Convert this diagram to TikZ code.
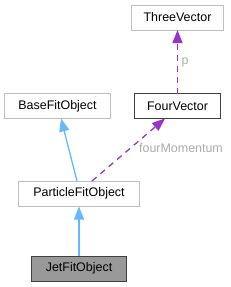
\documentclass[tikz,border=0pt]{standalone}
\usepackage{fontspec}
\setmainfont{Liberation Sans}
\usetikzlibrary{arrows.meta}
\definecolor{edgeblue}{HTML}{63B8FF}
\definecolor{edgepurple}{HTML}{9A32CD}
\definecolor{lightborder}{HTML}{BFBFBF}
\definecolor{darkborder}{HTML}{404040}
\definecolor{labelgray}{HTML}{ABABAB}
\begin{document}
\begin{tikzpicture}[x=1bp,y=-1bp,
  cls/.style={draw=lightborder,fill=white,minimum height=25bp,inner sep=0pt,font=\fontsize{12.5}{14}\selectfont,line width=1bp},
  inherit/.style={draw=edgeblue,line width=1.3bp,-{Triangle[length=13bp,width=10bp]}},
  usage/.style={draw=edgepurple,line width=1.3bp,dash pattern=on 6bp off 5bp,-{Triangle[length=13bp,width=10bp]}},
  elabel/.style={text=labelgray,font=\fontsize{12.5}{14}\selectfont,inner sep=1pt}]
\useasboundingbox (0,0) rectangle (231,287);
\node[cls,minimum width=91bp] (three) at (177.5,17.5) {ThreeVector};
\node[cls,minimum width=105bp] (base) at (57.5,106) {BaseFitObject};
\node[cls,draw=darkborder,minimum width=85bp] (four) at (177.5,106) {FourVector};
\node[cls,minimum width=120bp] (part) at (79,193.5) {ParticleFitObject};
\node[cls,draw=darkborder,fill=black!40,minimum width=94bp] (jet) at (79,268.5) {JetFitObject};
\coordinate (pb) at (77,181);
\coordinate (pf) at (92,181);
\coordinate (bb) at (61,118.5);
\coordinate (fb) at (165,118.5);
\coordinate (ft) at (177.5,93.5);
\coordinate (tb) at (177.5,30);
\draw[inherit] (pb) -- (bb);
\draw[usage] (pf) -- (fb);
\node[elabel] (lblfour) at (181,148) {fourMomentum};
\draw[usage] (ft) -- (tb);
\node[elabel] (lblp) at (185,62) {p};
\draw[inherit] (jet.north) -- (part.south);
\end{tikzpicture}
\end{document}
